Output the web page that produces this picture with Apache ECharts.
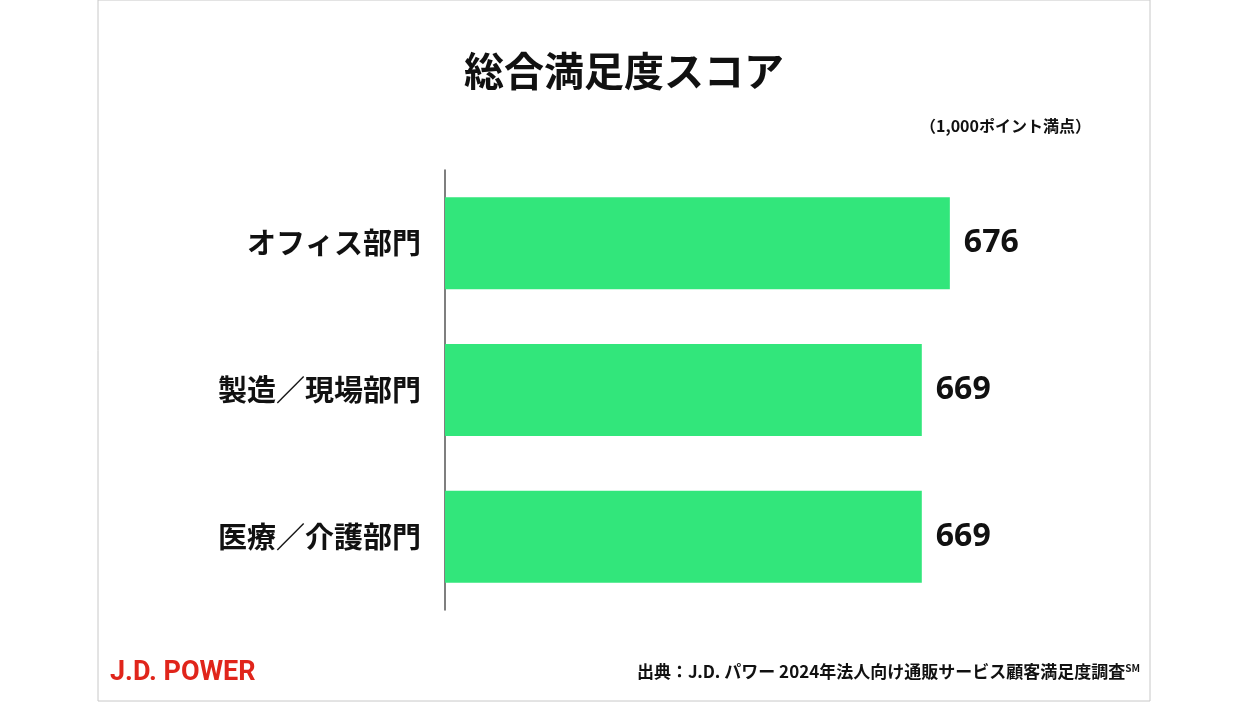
<!doctype html>
<html>
<head>
<meta charset="utf-8">
<script src="https://cdn.jsdelivr.net/npm/echarts@6/dist/echarts.min.js"></script>
<style>
  html,body{margin:0;padding:0;background:#fff;}
  #main{width:1248px;height:702px;}
</style>
</head>
<body>
<div id="main"></div>
<script>
var categories = ['オフィス部門', '製造／現場部門', '医療／介護部門'];
var scores = [676, 669, 669];

var jp = '"Noto Sans CJK JP", "Noto Sans", sans-serif';
var chart = echarts.init(document.getElementById('main'));

var option = {
    backgroundColor: '#fff',
    animation: false,
    graphic: [
        {type: 'rect', shape: {x: 98, y: 0, width: 1052, height: 701},
         style: {fill: 'none', stroke: '#c8c8c8', lineWidth: 1}},
        {type: 'text', left: 110, top: 660,
         style: {text: 'J.D. POWER', fill: '#e0251b', font: 'bold 27px "Roboto", sans-serif'}},
        {type: 'text', right: 108, top: 663,
         style: {rich: {
             a: {fill: '#111', font: 'bold 17px ' + jp},
             s: {fill: '#111', font: 'bold 10px ' + jp, verticalAlign: 'top', padding: [0, 0, 8, 0]}
         }, text: '{a|出典：J.D. パワー 2024年法人向け通販サービス顧客満足度調査}{s|SM}'}}
    ],
    title: [
        {text: '総合満足度スコア', left: 'center', top: 46,
         textStyle: {fontFamily: jp, fontSize: 40, fontWeight: 'bold', color: '#111'}},
        {text: '（1,000ポイント満点）', right: 152, top: 113,
         textStyle: {fontFamily: jp, fontSize: 16, fontWeight: 'bold', color: '#111'}}
    ],
    grid: {left: 445, right: 202, top: 170, bottom: 92},
    xAxis: {
        type: 'value', min: 550, max: 700, show: false
    },
    yAxis: {
        type: 'category', data: categories, inverse: true,
        axisLine: {show: true, lineStyle: {color: '#555', width: 1.5}},
        axisTick: {show: false},
        axisLabel: {fontFamily: jp, fontSize: 29, fontWeight: 'bold', color: '#111', margin: 24}
    },
    series: [{
        type: 'bar', data: scores, barWidth: 92,
        itemStyle: {color: '#32e67b'},
        label: {show: true, position: 'right', distance: 14,
                fontFamily: '"Noto Sans", sans-serif', fontSize: 32, fontWeight: 'bold', color: '#111'}
    }]
};
chart.setOption(option);
</script>
</body>
</html>
